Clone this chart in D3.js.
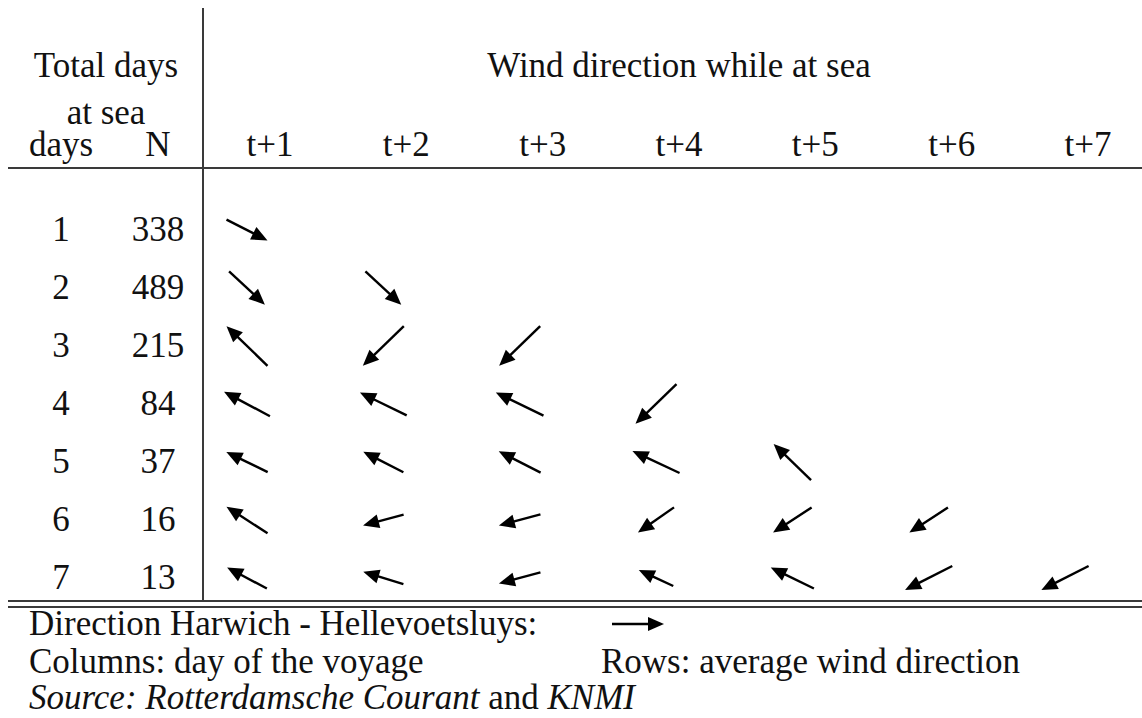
<!DOCTYPE html>
<html>
<head>
<meta charset="utf-8">
<script src="https://cdn.jsdelivr.net/npm/d3@7"></script>
<style>
  body { margin: 0; background: #fff; }
  svg text { font-family: "Liberation Serif", "DejaVu Serif", serif; fill: #111; }
</style>
</head>
<body>
<div id="chart"></div>
<script>
// table data
const days = [1, 2, 3, 4, 5, 6, 7];
const nVoyages = [338, 489, 215, 84, 37, 16, 13];
const colLabels = ["t+1", "t+2", "t+3", "t+4", "t+5", "t+6", "t+7"];

// direction the arrow points to, degrees (0 = east, counter-clockwise), one list per row
const arrowAngle = [
    [-27],
    [-43, -43],
    [136, 224, 224],
    [152, 154, 154, 224],
    [154, 153, 153, 155, 136],
    [147, 195, 195, 215, 213, 213],
    [152, 163, 195, 155, 154, 207, 207]
];
// drawn length of each arrow (px)
const arrowLen = [
    [46],
    [49, 49],
    [57, 57, 57],
    [52, 52, 53, 57],
    [46, 45, 47, 52, 52],
    [49, 42, 43, 44, 46, 46],
    [45, 42, 43, 38, 48, 53, 53]
];

const legendAngle = 0;
const legendLen = 52;

const width = 1142, height = 718;
const fs = 35;
const ruleColor = "#3a3a3a";

const svg = d3.select("#chart").append("svg")
    .attr("width", width)
    .attr("height", height);

const x = d3.scalePoint().domain(colLabels).range([247, 1065]);
const y = d3.scalePoint().domain(days).range([230, 578]);

const headOffset = 23;   // column header sits right of arrow centre
const leftDays = 61, leftN = 158, groupCenter = 106;

// rules
svg.append("line")
    .attr("x1", 203).attr("x2", 203).attr("y1", 8).attr("y2", 601)
    .attr("stroke", ruleColor).attr("stroke-width", 2);
svg.append("line")
    .attr("x1", 8).attr("x2", width).attr("y1", 168).attr("y2", 168)
    .attr("stroke", ruleColor).attr("stroke-width", 2);
[601, 607].forEach(function (yy) {
    svg.append("line")
        .attr("x1", 8).attr("x2", width).attr("y1", yy).attr("y2", yy)
        .attr("stroke", ruleColor).attr("stroke-width", 1.8);
});

// header
svg.append("text").attr("x", groupCenter).attr("y", 77)
    .attr("text-anchor", "middle").attr("font-size", fs).text("Total days");
svg.append("text").attr("x", groupCenter).attr("y", 124)
    .attr("text-anchor", "middle").attr("font-size", fs).text("at sea");
svg.append("text").attr("x", leftDays).attr("y", 156)
    .attr("text-anchor", "middle").attr("font-size", fs).text("days");
svg.append("text").attr("x", leftN).attr("y", 156)
    .attr("text-anchor", "middle").attr("font-size", fs).text("N");
svg.append("text").attr("x", (x("t+1") + x("t+7")) / 2 + headOffset).attr("y", 77)
    .attr("text-anchor", "middle").attr("font-size", fs).text("Wind direction while at sea");

svg.selectAll(".colhead")
    .data(colLabels)
    .enter()
    .append("text")
    .attr("class", "colhead")
    .attr("x", d => x(d) + headOffset)
    .attr("y", 156)
    .attr("text-anchor", "middle")
    .attr("font-size", fs)
    .text(d => d);

// row labels
svg.selectAll(".daylab")
    .data(days)
    .enter()
    .append("text")
    .attr("class", "daylab")
    .attr("x", leftDays)
    .attr("y", d => y(d) + 11)
    .attr("text-anchor", "middle")
    .attr("font-size", fs)
    .text(d => d);

svg.selectAll(".nlab")
    .data(nVoyages)
    .enter()
    .append("text")
    .attr("class", "nlab")
    .attr("x", leftN)
    .attr("y", (d, i) => y(days[i]) + 11)
    .attr("text-anchor", "middle")
    .attr("font-size", fs)
    .text(d => d);

// arrows: shaft + solid head
function drawArrow(g, len) {
    const hl = 16, hw = 7;
    g.append("line")
        .attr("x1", -len / 2).attr("x2", len / 2 - hl + 2)
        .attr("y1", 0).attr("y2", 0)
        .attr("stroke", "#000").attr("stroke-width", 2.4);
    g.append("path")
        .attr("d", "M" + (len / 2) + ",0 L" + (len / 2 - hl) + "," + (-hw) +
            " L" + (len / 2 - hl) + "," + hw + " Z")
        .attr("fill", "#000");
}

let cells = [];
for (let r = 0; r < days.length; r++) {
    for (let c = 0; c < arrowAngle[r].length; c++) {
        cells.push({row: days[r], col: colLabels[c], angle: arrowAngle[r][c], len: arrowLen[r][c]});
    }
}

svg.append("g")
    .selectAll("g")
    .data(cells)
    .enter()
    .append("g")
    .attr("transform", d => "translate(" + x(d.col) + "," + y(d.row) + ") rotate(" + (-d.angle) + ")")
    .each(function (d) { drawArrow(d3.select(this), d.len); });

// footer
svg.append("text").attr("x", 29).attr("y", 635).attr("font-size", fs)
    .text("Direction Harwich - Hellevoetsluys:");
const lg = svg.append("g")
    .attr("transform", "translate(" + (612 + legendLen / 2) + ",624) rotate(" + (-legendAngle) + ")");
drawArrow(lg, legendLen);

svg.append("text").attr("x", 29).attr("y", 673).attr("font-size", fs)
    .text("Columns: day of the voyage");
svg.append("text").attr("x", 601).attr("y", 673).attr("font-size", fs)
    .text("Rows: average wind direction");

const src = svg.append("text").attr("x", 29).attr("y", 709).attr("font-size", fs);
src.append("tspan").attr("font-style", "italic").text("Source: Rotterdamsche Courant");
src.append("tspan").text(" and ");
src.append("tspan").attr("font-style", "italic").text("KNMI");
</script>
</body>
</html>
